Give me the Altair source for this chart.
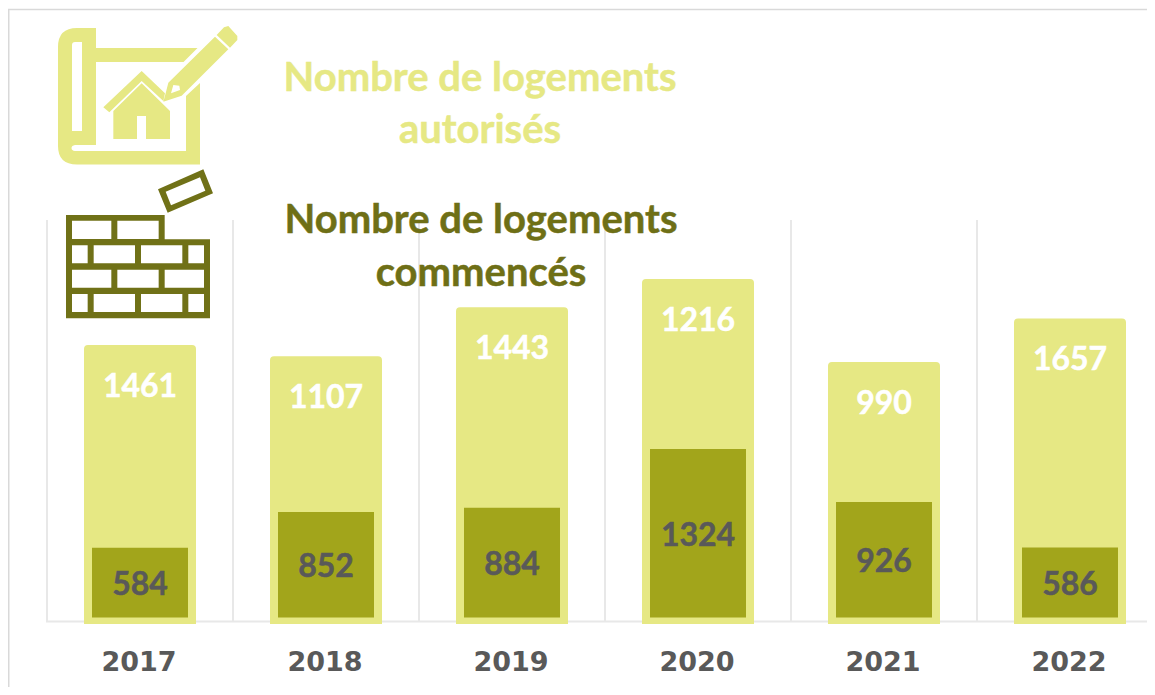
import altair as alt
import pandas as pd

years = ["2017", "2018", "2019", "2020", "2021", "2022"]
autorises = [1461, 1107, 1443, 1216, 990, 1657]
commences = [584, 852, 884, 1324, 926, 586]

LIGHT = "#E6E884"
MID = "#A2A51B"
OLIVE = "#707117"
GREY = "#595959"
GRID = "#E8E8E8"
FONT = "Lato"

df = pd.DataFrame({"annee": years, "autorises": autorises, "commences": commences})
df["total"] = df["autorises"] + df["commences"]
df["zero"] = 0
df["mid"] = df["commences"] / 2

OX, OY = 8, 8
W, H = 1139, 616
yscale = alt.Scale(domain=[-18.75, 4602], range=[H, 0], nice=False, zero=False)
xscale = alt.Scale(domain=years, range=[39, 39 + 1116], paddingInner=0, paddingOuter=0)
xaxis = alt.Axis(
    title=None, orient="bottom", domain=False, ticks=False, grid=False, labelAngle=0,
    labelFont="DejaVu Sans", labelFontWeight="bold", labelFontSize=27, labelColor=GREY,
    labelPadding=25.5, labelBaseline="top", labelAlign="center", labelBound=False, labelFlush=False,
    labelOffset=-1,
)
xenc = alt.X("annee:N", scale=xscale, axis=xaxis)
one = pd.DataFrame({"a": [0]})


def P(pts):
    return [(a / 3, b / 3) for a, b in pts]


def poly(cx, cy, pts):
    return "M" + "L".join(f"{(x-cx)/100:.4f},{(y-cy)/100:.4f}" for x, y in pts) + "Z"


def icon(path, cx, cy, color):
    return alt.Chart(one).mark_point(
        shape=path, size=40000, filled=True, fill=color, strokeWidth=0, opacity=1
    ).encode(x=alt.value(cx - OX), y=alt.value(cy - OY))


# blueprint icon
cx1, cy1 = 150, 100


def q(x, y):
    return f"{(x-cx1)/100:.4f},{(y-cy1)/100:.4f}"


plan = (
    "M" + q(77, 28) + "L" + q(96, 28) + "L" + q(96, 48) + "L" + q(197.5, 48) + "L" + q(183.5, 62)
    + "L" + q(96, 62) + "L" + q(96, 145) + "L" + q(75, 145) + "Q" + q(71.5, 145.5) + " " + q(71.5, 148)
    + "Q" + q(71.5, 150.5) + " " + q(75, 151) + "L" + q(186, 151) + "L" + q(186, 96) + "L" + q(200, 83)
    + "L" + q(200, 164.5) + "L" + q(77, 164.5) + "Q" + q(58, 164.5) + " " + q(58, 146) + "L" + q(58, 47)
    + "Q" + q(58, 28) + " " + q(77, 28) + "Z"
    + "M" + q(75, 42) + "Q" + q(72, 42) + " " + q(72, 45) + "L" + q(72, 131) + "L" + q(82, 131)
    + "L" + q(82, 42) + "Z"
)
roof = poly(cx1, cy1, P([(310, 322), (425, 213), (495, 280), (490, 303), (425, 243), (328, 337)]))
house = poly(cx1, cy1, P([(340, 333), (425, 250), (510, 333), (510, 417), (438, 417), (438, 348),
                          (411, 348), (411, 417), (340, 417)]))
pencil = poly(cx1, cy1, P([(505, 248), (645, 110), (685, 148), (545, 287), (490, 305), (497, 280)])) \
    + poly(cx1, cy1, P([(513, 280), (540, 270), (538, 257), (520, 255)]))
cap = poly(cx1, cy1, P([(650, 105), (672, 82), (685, 78), (712, 108), (712, 120), (690, 143)]))

# brick icon
cx2, cy2 = 140, 230
wall = poly(cx2, cy2, P([(198, 645), (494, 645), (494, 718), (630, 718), (630, 955), (198, 955)]))
rows = [
    (662, 717, [(216, 334), (352, 476)]),
    (736, 790, [(216, 263), (281, 405), (423, 547), (565, 612)]),
    (809, 863, [(216, 334), (352, 476), (494, 612)]),
    (882, 936, [(216, 263), (281, 405), (423, 547), (565, 612)]),
]
for y0, y1, spans in rows:
    for a, b in spans:
        wall += poly(cx2, cy2, P([(a, y0), (a, y1), (b, y1), (b, y0)]))
wall += poly(cx2, cy2, P([(474, 568), (610, 508), (639, 580), (503, 638)]))
wall += poly(cx2, cy2, P([(497, 575), (513, 616), (616, 572), (600, 532)]))


def line(txt, cx, cy, color):
    return alt.Chart(pd.DataFrame({"t": [txt]})).mark_text(
        font=FONT, fontWeight="bold", fontSize=40, color=color, align="center", baseline="middle",
        stroke=color, strokeWidth=0.5,
    ).encode(x=alt.value(cx - OX), y=alt.value(cy - OY), text="t:N")


frame_top = alt.Chart(one).mark_rule(color="#D9D9D9", strokeWidth=1.5).encode(
    x=alt.value(0), x2=alt.value(W), y=alt.value(1.5))
frame_left = alt.Chart(one).mark_rule(color="#D9D9D9", strokeWidth=1.5).encode(
    x=alt.value(0.75), y=alt.value(1.5), y2=alt.value(H + 63))

grid = alt.Chart(df).mark_rule(color=GRID, strokeWidth=2).encode(
    x=alt.X("annee:N", scale=xscale, bandPosition=0, axis=xaxis),
    y=alt.value(212),
    y2=alt.value(H - 2),
)
axis_line = alt.Chart(one).mark_rule(color=GRID, strokeWidth=2).encode(
    x=alt.value(38), x2=alt.value(W), y=alt.value(613.5))

light_bar = alt.Chart(df).mark_bar(
    size=104, color=LIGHT, stroke=LIGHT, strokeWidth=8, strokeJoin="round", clip=True
).encode(x=xenc, y=alt.Y("total:Q", scale=yscale, axis=None), y2="zero:Q")
dark_bar = alt.Chart(df).mark_bar(
    size=104, color=MID, stroke=LIGHT, strokeWidth=8, strokeJoin="miter", clip=True
).encode(x=xenc, y=alt.Y("commences:Q", scale=yscale, axis=None), y2="zero:Q")

light_txt = alt.Chart(df).mark_text(
    font=FONT, fontWeight="bold", fontSize=32, color="white", dy=38, baseline="middle",
    stroke="white", strokeWidth=0.5,
).encode(x=xenc, y=alt.Y("total:Q", scale=yscale, axis=None), text="autorises:Q")
dark_txt = alt.Chart(df).mark_text(
    font=FONT, fontWeight="bold", fontSize=32, color=GREY, dy=2.5, baseline="middle",
    stroke=GREY, strokeWidth=0.5,
).encode(x=xenc, y=alt.Y("mid:Q", scale=yscale, axis=None), text="commences:Q")

chart = alt.layer(
    frame_top, frame_left, grid, axis_line, light_bar, dark_bar, light_txt, dark_txt,
    icon(plan + roof + house + pencil + cap, cx1, cy1, LIGHT),
    icon(wall, cx2, cy2, OLIVE),
    line("Nombre de logements", 480, 79, LIGHT),
    line("autorisés", 480, 131, LIGHT),
    line("Nombre de logements", 481, 221, "#6E6F16"),
    line("commencés", 481, 274, "#6E6F16"),
).properties(
    width=W, height=H, background="white",
    autosize=alt.AutoSizeParams(type="none"),
    padding={"left": 0, "top": 0, "right": 0, "bottom": 63},
).configure_view(stroke=None)

chart.save("out.html", embed_options={"renderer": "svg", "actions": False})
